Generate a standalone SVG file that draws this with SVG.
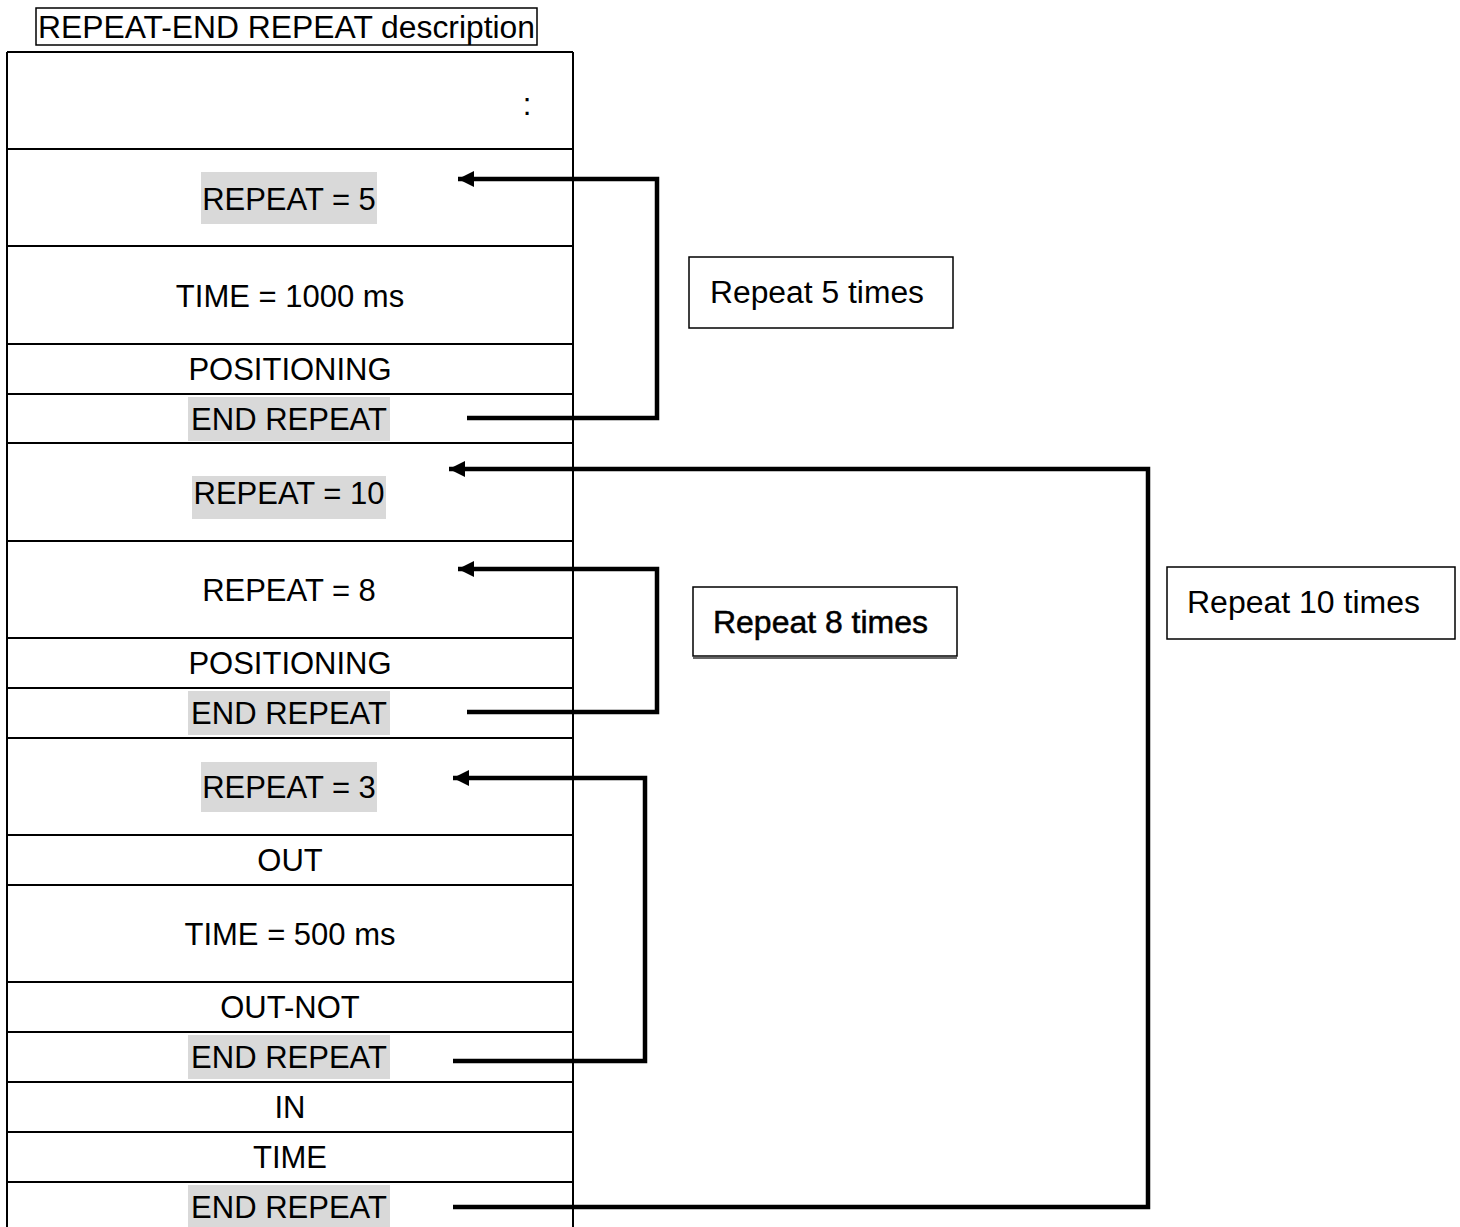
<svg xmlns="http://www.w3.org/2000/svg" width="1460" height="1227" viewBox="0 0 1460 1227">
<style>
text{font-family:"Liberation Sans",Arial,sans-serif;font-size:31px;fill:#000}
.c{text-anchor:middle}
.hl{fill:#d9d9d9}
.row{fill:none;stroke:#000;stroke-width:2}
.conn{fill:none;stroke:#000;stroke-width:4.5}
.box{fill:#fff;stroke:#000;stroke-width:1.5}
</style>
<defs>
<marker id="ah" markerUnits="userSpaceOnUse" markerWidth="18" markerHeight="16" refX="16" refY="8" orient="auto">
<path d="M0,0 L16,8 L0,16 z" fill="#000"/>
</marker>
</defs>
<rect width="1460" height="1227" fill="#fff"/>
<g id="title">
<rect x="36" y="8" width="501" height="37" class="box" stroke-width="2"/>
<text x="38" y="38" textLength="497" lengthAdjust="spacingAndGlyphs">REPEAT-END REPEAT description</text>
</g>
<g id="table">
<line x1="7" y1="52" x2="7" y2="1227" class="row"/>
<line x1="573" y1="52" x2="573" y2="1227" class="row"/>
<line x1="7" y1="52" x2="573" y2="52" class="row"/>
<line x1="7" y1="149" x2="573" y2="149" class="row"/>
<line x1="7" y1="246" x2="573" y2="246" class="row"/>
<line x1="7" y1="344" x2="573" y2="344" class="row"/>
<line x1="7" y1="394" x2="573" y2="394" class="row"/>
<line x1="7" y1="443" x2="573" y2="443" class="row"/>
<line x1="7" y1="541" x2="573" y2="541" class="row"/>
<line x1="7" y1="638" x2="573" y2="638" class="row"/>
<line x1="7" y1="688" x2="573" y2="688" class="row"/>
<line x1="7" y1="738" x2="573" y2="738" class="row"/>
<line x1="7" y1="835" x2="573" y2="835" class="row"/>
<line x1="7" y1="885" x2="573" y2="885" class="row"/>
<line x1="7" y1="982" x2="573" y2="982" class="row"/>
<line x1="7" y1="1032" x2="573" y2="1032" class="row"/>
<line x1="7" y1="1082" x2="573" y2="1082" class="row"/>
<line x1="7" y1="1132" x2="573" y2="1132" class="row"/>
<line x1="7" y1="1182" x2="573" y2="1182" class="row"/>
</g>
<g id="row-dots"><text x="527" y="115" class="c">:</text></g>
<g id="row-repeat5">
<rect x="201" y="172" width="176" height="52" class="hl"/>
<text x="289" y="210" class="c">REPEAT = 5</text>
</g>
<g id="row-time1000"><text x="290" y="307" class="c">TIME = 1000 ms</text></g>
<g id="row-pos1"><text x="290" y="380" class="c">POSITIONING</text></g>
<g id="row-end1">
<rect x="188" y="397" width="202" height="44" class="hl"/>
<text x="289" y="430" class="c">END REPEAT</text>
</g>
<g id="row-repeat10">
<rect x="192" y="476" width="194" height="43" class="hl"/>
<text x="289" y="504" class="c">REPEAT = 10</text>
</g>
<g id="row-repeat8"><text x="289" y="601" class="c">REPEAT = 8</text></g>
<g id="row-pos2"><text x="290" y="674" class="c">POSITIONING</text></g>
<g id="row-end2">
<rect x="188" y="691" width="202" height="44" class="hl"/>
<text x="289" y="724" class="c">END REPEAT</text>
</g>
<g id="row-repeat3">
<rect x="201" y="762" width="176" height="50" class="hl"/>
<text x="289" y="798" class="c">REPEAT = 3</text>
</g>
<g id="row-out"><text x="290" y="871" class="c">OUT</text></g>
<g id="row-time500"><text x="290" y="945" class="c">TIME = 500 ms</text></g>
<g id="row-outnot"><text x="290" y="1018" class="c">OUT-NOT</text></g>
<g id="row-end3">
<rect x="188" y="1035" width="202" height="44" class="hl"/>
<text x="289" y="1068" class="c">END REPEAT</text>
</g>
<g id="row-in"><text x="290" y="1118" class="c">IN</text></g>
<g id="row-time"><text x="290" y="1168" class="c">TIME</text></g>
<g id="row-end4">
<rect x="188" y="1185" width="202" height="44" class="hl"/>
<text x="289" y="1218" class="c">END REPEAT</text>
</g>
<g id="connectors">
<path d="M467,418 H657 V179 H458" class="conn" marker-end="url(#ah)"/>
<path d="M453,1207 H1148 V469 H449" class="conn" marker-end="url(#ah)"/>
<path d="M467,712 H657 V569 H458" class="conn" marker-end="url(#ah)"/>
<path d="M453,1061 H645 V778 H453" class="conn" marker-end="url(#ah)"/>
</g>
<g id="label-5">
<rect x="689" y="257" width="264" height="71" class="box"/>
<text x="710" y="303" textLength="214" lengthAdjust="spacingAndGlyphs">Repeat 5 times</text>
</g>
<g id="label-8">
<line x1="693" y1="658" x2="957" y2="658" stroke="#666" stroke-width="2"/>
<rect x="693" y="587" width="264" height="69" class="box"/>
<text x="713" y="633" stroke="#000" stroke-width="0.5" textLength="215" lengthAdjust="spacingAndGlyphs">Repeat 8 times</text>
</g>
<g id="label-10">
<rect x="1167" y="567" width="288" height="72" class="box"/>
<text x="1187" y="613" textLength="233" lengthAdjust="spacingAndGlyphs">Repeat 10 times</text>
</g>
</svg>
